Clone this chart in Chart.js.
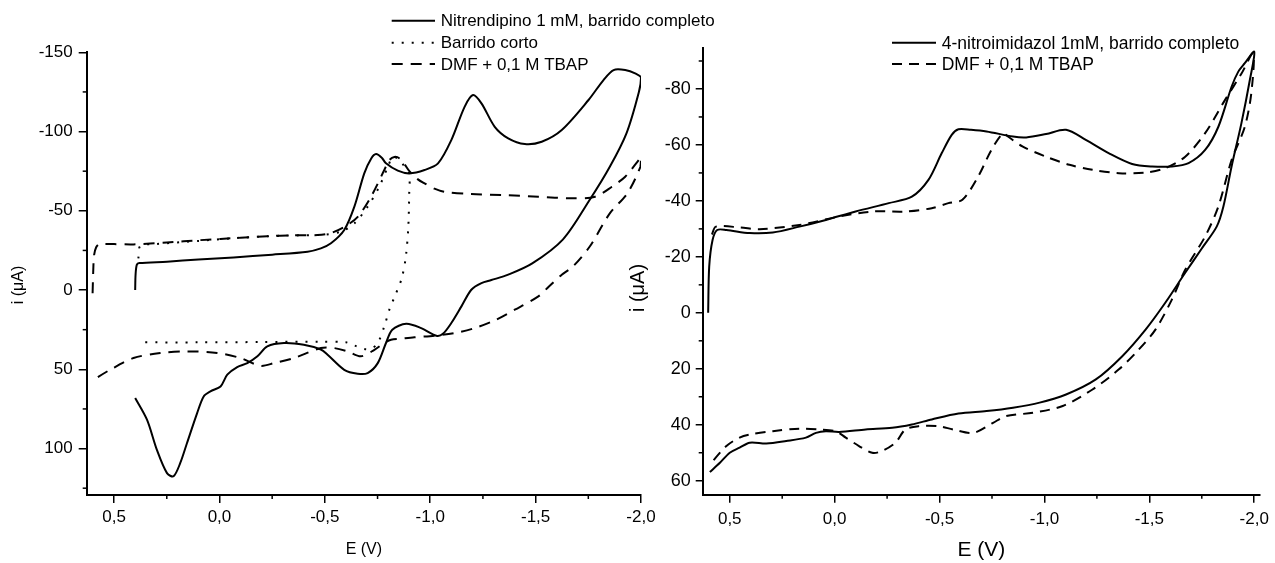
<!DOCTYPE html>
<html><head><meta charset="utf-8">
<script src="https://cdn.jsdelivr.net/npm/chart.js@4/dist/chart.umd.min.js"></script>
<style>
html,body{margin:0;padding:0;background:#fff;}
#wrap{position:relative;width:1275px;height:563px;background:#fff;}
canvas{position:absolute;left:0;top:0;}
</style></head><body>
<div id="wrap"><canvas id="c1" width="1275" height="563"></canvas><canvas id="c2" width="1275" height="563"></canvas></div>
<script>
// ---------- DATA (left panel: Nitrendipino) ----------
const nitrE = [0.40,0.398,0.392,0.38,0.249,0.1,-0.067,-0.25,-0.418,-0.481,-0.529,-0.592,-0.64,-0.687,-0.72,-0.743,-0.77,-0.79,-0.846,-0.901,-0.973,-1.037,-1.1,-1.163,-1.203,-1.243,-1.306,-1.37,-1.449,-1.529,-1.624,-1.751,-1.822,-1.87,-1.925,-1.975,-2.0,
  -1.99,-1.931,-1.852,-1.756,-1.63,-1.484,-1.37,-1.29,-1.243,-1.195,-1.148,-1.1,-1.06,-1.029,-0.957,-0.886,-0.82,-0.79,-0.751,-0.703,-0.656,-0.592,-0.513,-0.481,-0.4,-0.306,-0.227,-0.18,-0.132,-0.084,-0.037,-0.005,0.043,0.075,0.106,0.154,0.186,0.218,0.249,0.297,0.344,0.40];
const nitrI = [0,-10,-16,-17,-17.9,-19.3,-20.6,-22.3,-24.2,-26.3,-29.5,-37.9,-52.6,-73.6,-83,-85.8,-83.5,-80,-75.3,-73.6,-75.7,-79.9,-94.6,-115.6,-123,-117.8,-103,-95.7,-92.1,-93.6,-101,-119.9,-132.5,-138.8,-138.8,-136.5,-134,
  -125,-98.9,-77.8,-56.8,-32,-16.8,-9.7,-6.3,-4.4,-0.2,10.3,20.8,27.6,28.8,24,21.3,25,33.4,46.1,52.4,52.8,50.3,40.8,37.5,34.5,33.4,35.5,41.8,46.1,48.6,53.4,60.8,63.9,67.1,77.6,96.5,109.1,117.5,115.5,100.8,81.8,68.1];

const cortoE = [0.385,0.375,0.3,0.1,-0.1,-0.3,-0.5,-0.58,-0.64,-0.703,-0.758,-0.799,-0.822,-0.845,-0.875,-0.9,-0.9,-0.896,-0.885,-0.866,-0.838,-0.806,-0.782,-0.751,-0.72,-0.687,-0.64,-0.6,-0.481,-0.2,0.1,0.382];
const cortoI = [-20,-28,-29,-31,-33,-34.3,-35,-37,-42,-52.6,-65.2,-77.8,-84,-83,-78.5,-73.6,-60,-40,-22,-8,2,12.4,22.9,33.4,37,37.2,35,33,32.6,32.8,33,33];

const dmf1E = [0.602,0.599,0.595,0.585,0.57,0.551,0.5,0.408,0.25,0.09,-0.1,-0.227,-0.35,-0.465,-0.529,-0.6,-0.656,-0.719,-0.782,-0.806,-0.83,-0.855,-0.88,-0.901,-0.94,-0.973,-1.02,-1.068,-1.195,-1.354,-1.513,-1.671,-1.782,-1.862,-1.925,-1.989,-2.0,
  -1.997,-1.935,-1.852,-1.756,-1.676,-1.624,-1.562,-1.513,-1.401,-1.306,-1.211,-1.116,-1.02,-0.925,-0.862,-0.814,-0.782,-0.735,-0.671,-0.608,-0.544,-0.481,-0.354,-0.259,-0.195,-0.1,0.011,0.154,0.281,0.408,0.519,0.583,0.601];
const dmf1I = [2,-12,-22,-27,-29,-29,-29,-28.8,-30,-31.5,-33,-34,-34.5,-34.7,-36,-40.5,-46.2,-58.9,-75.7,-82,-84,-83,-79,-75,-70,-67.3,-64,-62,-60.6,-59.9,-58.9,-57.9,-58.9,-65.2,-71.5,-82,-84,
  -77.8,-61,-48.4,-27.3,-14.7,-9.7,-2.1,4,12.4,19.1,24,27.1,28.8,29.8,30.7,31.4,33.4,37.7,41.8,38.7,36.6,36.6,42.9,46.1,47.8,42.9,39.7,38.7,39.7,42.9,50.3,55.5,57.6];

// ---------- DATA (right panel: 4-nitroimidazol) ----------
const nitroE = [0.603,0.598,0.582,0.56,0.516,0.405,0.295,0.168,0.042,-0.1,-0.258,-0.368,-0.447,-0.51,-0.558,-0.59,-0.65,-0.724,-0.85,-0.913,-1.008,-1.103,-1.197,-1.308,-1.418,-1.513,-1.608,-1.687,-1.766,-1.829,-1.892,-1.924,-1.955,-2.0,
  -1.979,-1.939,-1.892,-1.853,-1.821,-1.75,-1.671,-1.576,-1.482,-1.371,-1.245,-1.103,-0.977,-0.85,-0.724,-0.59,-0.463,-0.368,-0.274,-0.148,-0.021,0.042,0.089,0.137,0.231,0.326,0.405,0.453,0.5,0.547,0.595];
const nitroI = [0,-16.5,-26,-29.6,-29.6,-28.5,-28.7,-30.8,-33.2,-36.2,-39.2,-41.5,-47.5,-57,-63.6,-65.6,-65.4,-64.8,-63,-62.7,-63.9,-65.4,-61.8,-57,-53.2,-52.3,-52.3,-53.5,-58.2,-66.5,-80.8,-86.2,-89.2,-93.3,
  -83.2,-67.8,-52.3,-38,-30.8,-23,-14.3,-3.6,6,15.5,23.8,29.2,32.1,33.9,35.1,36,38.1,39.9,41.1,41.7,42.6,42.3,42.9,44.6,45.8,46.7,46.4,48.2,50,53.6,56.9];

const dmf2E = [0.585,0.566,0.45,0.358,0.168,-0.021,-0.179,-0.337,-0.463,-0.542,-0.609,-0.684,-0.747,-0.803,-0.826,-0.897,-1.008,-1.119,-1.229,-1.355,-1.482,-1.576,-1.671,-1.766,-1.861,-1.94,-1.995,
  -1.986,-1.955,-1.892,-1.829,-1.766,-1.671,-1.608,-1.529,-1.45,-1.355,-1.229,-1.087,-0.945,-0.818,-0.755,-0.661,-0.566,-0.495,-0.4,-0.337,-0.29,-0.226,-0.179,-0.116,-0.053,-0.005,0.074,0.168,0.295,0.405,0.453,0.516,0.595];
const dmf2I = [-28,-30.8,-30.5,-29.9,-31.4,-34.4,-36.2,-36.2,-37.4,-39.2,-40.4,-48.7,-58.2,-64.2,-63,-59.4,-55.8,-52.9,-51.1,-49.9,-50.1,-51.7,-55.8,-64.2,-76.1,-85.6,-92.8,
  -78.5,-66.5,-54.6,-38,-27.3,-15.4,-4.8,6,13.1,20.2,27.4,33.3,35.7,36.9,39.3,42.9,41.7,40.5,40.5,41.7,46.4,49.4,50,47.6,44.6,42.3,41.7,41.4,42.3,43.5,44.6,47.6,54.2];

// ---------- TICKS & LABELS ----------
const xTicks = [0.5, 0.0, -0.5, -1.0, -1.5, -2.0];
const xMinor = [0.25, -0.25, -0.75, -1.25, -1.75];
const leftYTicks = [-150, -100, -50, 0, 50, 100];
const leftYMinor = [-125, -75, -25, 25, 75, 125];
const rightYTicks = [-80, -60, -40, -20, 0, 20, 40, 60];
const rightYMinor = [-90, -70, -50, -30, -10, 10, 30, 50];
const leftLabels = ['Nitrendipino 1 mM, barrido completo', 'Barrido corto', 'DMF + 0,1 M TBAP'];
const rightLabels = ['4-nitroimidazol 1mM, barrido completo', 'DMF + 0,1 M TBAP'];
const xTitle = 'E (V)';
const yTitle = 'i (\u03BCA)';

const FONT = "'Liberation Sans', Arial, Helvetica, sans-serif";
Chart.defaults.font.family = FONT;
Chart.defaults.color = '#000';

const pts = (xs, ys) => xs.map((x, k) => ({x: x, y: ys[k]}));
const fmtE = v => (Math.abs(v) < 1e-9 ? 0 : v).toFixed(1).replace('.', ',');

const legendPlugin = {
  id: 'cvLegend',
  afterDraw(chart, args, o) {
    const ctx = chart.ctx;
    ctx.save();
    chart.data.datasets.forEach((ds, k) => {
      const y = o.rows[k];
      ctx.strokeStyle = '#000';
      ctx.lineWidth = ds.borderWidth;
      ctx.setLineDash(ds.borderDash || []);
      ctx.beginPath(); ctx.moveTo(o.x0, y); ctx.lineTo(o.x1, y); ctx.stroke();
      ctx.setLineDash([]);
      ctx.fillStyle = '#000';
      ctx.font = o.size + 'px ' + FONT;
      ctx.textBaseline = 'middle';
      ctx.textAlign = 'left';
      ctx.fillText(ds.label, o.tx, y + 1);
    });
    ctx.restore();
  }
};
const decoPlugin = {
  id: 'cvDeco',
  afterDraw(chart, args, o) {
    const ctx = chart.ctx, xs = chart.scales.x, ys = chart.scales.y;
    ctx.save();
    ctx.strokeStyle = '#000'; ctx.lineWidth = 1.5;
    o.xMinor.forEach(v => { const p = xs.getPixelForValue(v); ctx.beginPath(); ctx.moveTo(p, xs.top); ctx.lineTo(p, xs.top + o.len); ctx.stroke(); });
    o.yMinor.forEach(v => { const p = ys.getPixelForValue(v); ctx.beginPath(); ctx.moveTo(ys.right, p); ctx.lineTo(ys.right - o.len, p); ctx.stroke(); });
    ctx.fillStyle = '#000';
    ctx.font = o.tSize + 'px ' + FONT;
    ctx.textAlign = 'center'; ctx.textBaseline = 'middle';
    ctx.translate(o.tx, o.ty); ctx.rotate(-Math.PI / 2);
    ctx.fillText(yTitle, 0, 0);
    ctx.restore();
  }
};

function makeChart(id, cfg) {
  const ds = cfg.series.map(s => ({
    label: s.label, data: pts(s.e, s.i), showLine: true, borderColor: '#000', backgroundColor: '#000',
    borderWidth: s.w, borderDash: s.dash, pointRadius: 0, tension: 0.3, fill: false
  }));
  return new Chart(document.getElementById(id), {
    type: 'scatter',
    data: {datasets: ds},
    plugins: [legendPlugin, decoPlugin],
    options: {
      responsive: false, animation: false, events: [],
      layout: {padding: cfg.pad},
      plugins: {legend: {display: false}, tooltip: {enabled: false},
        cvLegend: cfg.legend, cvDeco: cfg.deco},
      scales: {
        x: {
          type: 'linear', reverse: true, min: cfg.xmin, max: cfg.xmax,
          afterFit(s) { s.height = cfg.xh; },
          afterBuildTicks(s) { s.ticks = xTicks.map(v => ({value: v})); },
          grid: {drawOnChartArea: false, drawTicks: true, tickLength: 8, color: '#000', lineWidth: 1.5},
          border: {display: true, color: '#000', width: 2},
          ticks: {color: '#000', font: {size: 17}, padding: cfg.xpad, maxRotation: 0, autoSkip: false, callback: v => fmtE(v)},
          title: {display: true, text: xTitle, color: '#000', font: {size: cfg.xtSize}, padding: {top: 0, bottom: cfg.xtPad}}
        },
        y: {
          type: 'linear', reverse: true, min: cfg.ymin, max: cfg.ymax,
          afterFit(s) { s.width = cfg.yw; },
          afterBuildTicks(s) { s.ticks = cfg.yTicks.map(v => ({value: v})); },
          grid: {drawOnChartArea: false, drawTicks: true, tickLength: cfg.ytl, color: '#000', lineWidth: 1.5},
          border: {display: true, color: '#000', width: 2},
          ticks: {color: '#000', font: {size: cfg.ySize}, padding: cfg.ypad, autoSkip: false, callback: v => String(v)}
        }
      }
    }
  });
}

makeChart('c1', {
  series: [
    {label: leftLabels[0], e: nitrE, i: nitrI, w: 2, dash: []},
    {label: leftLabels[1], e: cortoE, i: cortoI, w: 2, dash: [2, 8]},
    {label: leftLabels[2], e: dmf1E, i: dmf1I, w: 2, dash: [11, 8]}
  ],
  pad: {left: 0, top: 52.3, right: 634, bottom: 0},
  xmin: -2.0, xmax: 0.63, ymin: -150, ymax: 129.3,
  xh: 68, yw: 86.7, xpad: 4, ypad: 6, ytl: 8, ySize: 17, yTicks: leftYTicks,
  xtSize: 16, xtPad: 3.4,
  legend: {x0: 391.7, x1: 435, tx: 440.7, rows: [20.7, 42.7, 64], size: 17},
  deco: {xMinor: xMinor, yMinor: leftYMinor, len: 4, tx: 18.5, ty: 285, tSize: 16}
});

makeChart('c2', {
  series: [
    {label: rightLabels[0], e: nitroE, i: nitroI, w: 2, dash: []},
    {label: rightLabels[1], e: dmf2E, i: dmf2I, w: 2, dash: [10, 7]}
  ],
  pad: {left: 620, top: 47.7, right: 11.7, bottom: 0},
  xmin: -2.027, xmax: 0.629, ymin: -94.75, ymax: 65,
  xh: 68.3, yw: 82.7, xpad: 6, ypad: 5, ytl: 7, ySize: 18, yTicks: rightYTicks,
  xtSize: 21, xtPad: 0,
  legend: {x0: 892, x1: 936, tx: 941.7, rows: [42.7, 64], size: 17.5},
  deco: {xMinor: xMinor, yMinor: rightYMinor, len: 4, tx: 638, ty: 288, tSize: 20}
});
</script>
</body></html>
